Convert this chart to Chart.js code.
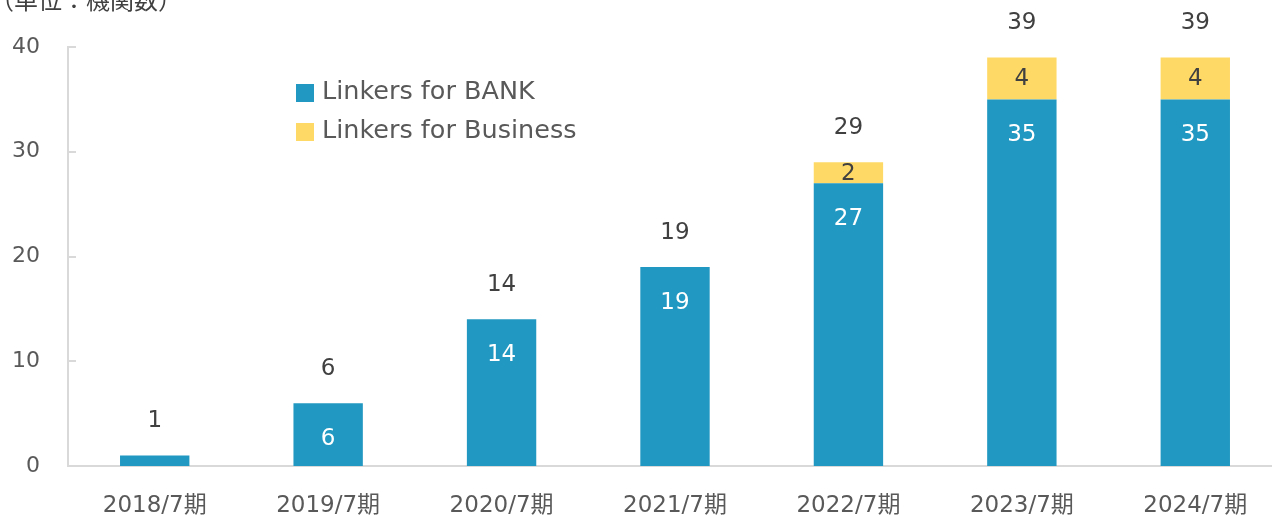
<!DOCTYPE html>
<html>
<head>
<meta charset="utf-8">
<script src="https://cdn.jsdelivr.net/npm/chart.js@4"></script>
<style>
  html, body { margin: 0; padding: 0; background: #fff; overflow: hidden; }
  #wrap { width: 1282px; height: 515px; }
</style>
</head>
<body>
<div id="wrap"><canvas id="myChart" width="1282" height="515"></canvas></div>
<script>
var categories = ['2018/7期', '2019/7期', '2020/7期', '2021/7期', '2022/7期', '2023/7期', '2024/7期'];
var bankValues = [1, 6, 14, 19, 27, 35, 35];
var businessValues = [0, 0, 0, 0, 2, 4, 4];
var yTicks = [0, 10, 20, 30, 40];

var FONT = '"DejaVu Sans", "Noto Sans CJK JP", sans-serif';

// labels, legend, title and the little inward ticks on the y axis
var extras = {
    id: 'extras',
    afterDatasetsDraw: function (chart) {
        var c = chart.ctx;
        var y = chart.scales.y;
        c.save();

        // inward tick marks
        c.strokeStyle = '#d9d9d9';
        c.lineWidth = 2;
        yTicks.forEach(function (t) {
            if (t === 0) return;
            var py = Math.round(y.getPixelForValue(t));
            c.beginPath();
            c.moveTo(chart.chartArea.left, py);
            c.lineTo(chart.chartArea.left + 8, py);
            c.stroke();
        });

        c.textAlign = 'center';
        c.textBaseline = 'middle';
        c.font = '23px ' + FONT;

        var bank = chart.getDatasetMeta(0).data;
        var bus = chart.getDatasetMeta(1).data;
        bank.forEach(function (bar, i) {
            var h = bar.base - bar.y;
            if (h > 40) {
                c.fillStyle = '#ffffff';
                c.fillText(String(bankValues[i]), bar.x, bar.y + 36);
            }
            if (businessValues[i] > 0) {
                var b = bus[i];
                c.fillStyle = '#404040';
                c.fillText(String(businessValues[i]), b.x, (b.y + b.base) / 2 + 1);
            }
            var top = businessValues[i] > 0 ? bus[i].y : bar.y;
            c.fillStyle = '#404040';
            c.fillText(String(bankValues[i] + businessValues[i]), bar.x, top - 34);
        });

        // legend
        c.textAlign = 'left';
        c.font = '25.5px ' + FONT;
        chart.data.datasets.forEach(function (ds, k) {
            var ly = 92 + k * 39;
            c.fillStyle = ds.backgroundColor;
            c.fillRect(296, ly - 8, 18, 18);
            c.fillStyle = '#595959';
            c.fillText(ds.label, 322, ly);
        });

        // unit caption
        c.font = '24px ' + FONT;
        c.textBaseline = 'alphabetic';
        c.fillStyle = '#404040';
        c.fillText('（単位：機関数）', -10, 9);
        c.restore();
    }
};

var ctx = document.getElementById('myChart').getContext('2d');
var myChart = new Chart(ctx, {
    type: 'bar',
    data: {
        labels: categories,
        datasets: [{
            label: 'Linkers for BANK',
            data: bankValues,
            backgroundColor: '#2098c1'
        }, {
            label: 'Linkers for Business',
            data: businessValues,
            backgroundColor: '#ffd966'
        }]
    },
    options: {
        responsive: false,
        animation: false,
        layout: { padding: { top: 47, left: 0, right: 0, bottom: 0 } },
        datasets: {
            bar: { barPercentage: 0.8, categoryPercentage: 0.5 }
        },
        plugins: {
            legend: { display: false },
            tooltip: { enabled: false }
        },
        scales: {
            x: {
                stacked: true,
                grid: { display: false, drawTicks: false },
                border: { color: '#d9d9d9', width: 2 },
                ticks: { color: '#595959', font: { size: 23, family: FONT }, padding: 26 },
                afterFit: function (s) { s.height = 49; }
            },
            y: {
                stacked: true,
                min: 0,
                max: 40,
                afterBuildTicks: function (s) { s.ticks = yTicks.map(function (v) { return { value: v }; }); },
                grid: { display: false, drawTicks: false },
                border: { color: '#d9d9d9', width: 2 },
                ticks: { color: '#595959', font: { size: 22, family: FONT }, padding: 28 },
                afterFit: function (s) { s.width = 68; }
            }
        }
    },
    plugins: [extras]
});
</script>
</body>
</html>
